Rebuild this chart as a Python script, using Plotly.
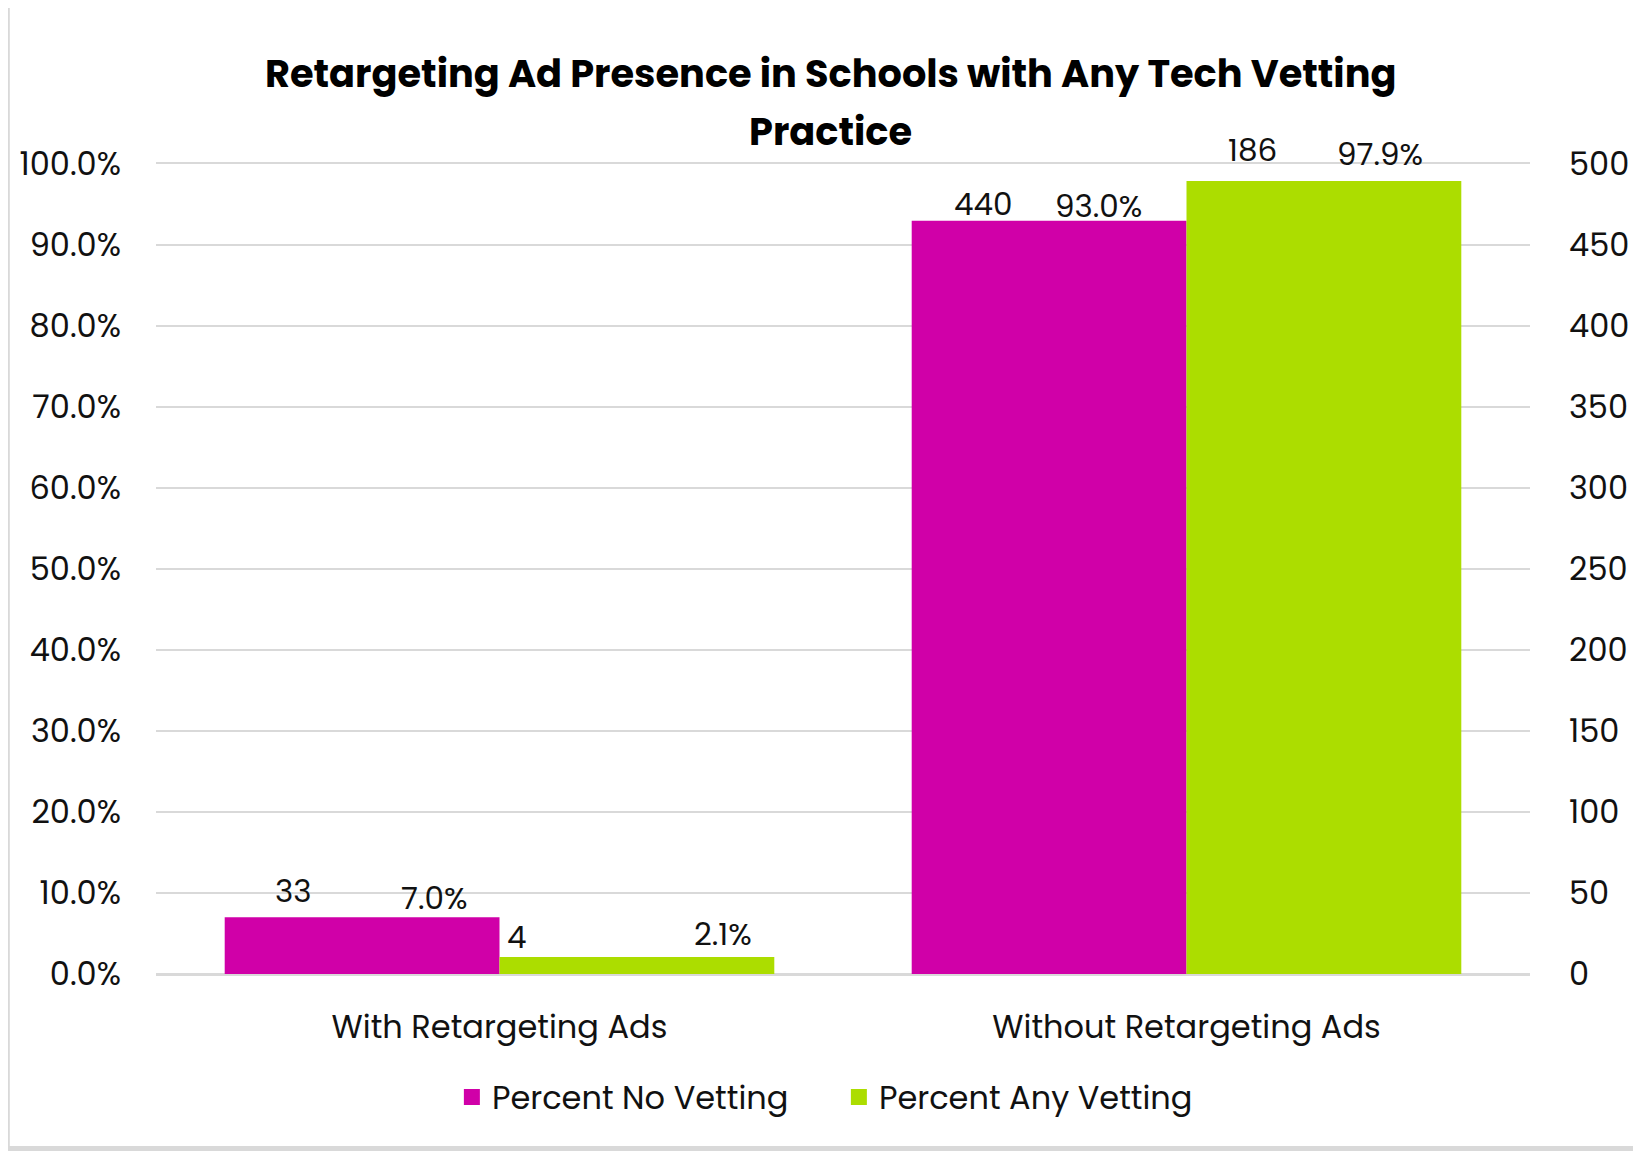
import plotly.graph_objects as go

# data
categories = ["With Retargeting Ads", "Without Retargeting Ads"]
pct_no_vetting = [7.0, 93.0]
pct_any_vetting = [2.1, 97.9]
count_no_vetting = [33, 440]
count_any_vetting = [4, 186]
pct_ticks = list(range(0, 101, 10))
count_ticks = list(range(0, 501, 50))
title_lines = ["Retargeting Ad Presence in Schools with Any Tech Vetting", "Practice"]

MAGENTA = "#d000a8"
LIME = "#acdd00"
FONT = "Poppins, Inter, 'Noto Sans', sans-serif"
GRID = "#d9d9d9"

fig = go.Figure()
fig.add_trace(go.Bar(x=categories, y=pct_no_vetting, name="Percent No Vetting",
                     marker=dict(color=MAGENTA, line=dict(width=0)), showlegend=False))
fig.add_trace(go.Bar(x=categories, y=pct_any_vetting, name="Percent Any Vetting",
                     marker=dict(color=LIME, line=dict(width=0)), showlegend=False))
# invisible trace so the secondary (count) axis gets drawn
fig.add_trace(go.Scatter(x=categories, y=count_no_vetting, yaxis="y2", mode="markers",
                         marker=dict(opacity=0), showlegend=False, hoverinfo="skip"))
# legend entries with bigger square keys
for name, col in [("Percent No Vetting", MAGENTA), ("Percent Any Vetting", LIME)]:
    fig.add_trace(go.Scatter(x=[None], y=[None], mode="markers", name=name,
                             marker=dict(symbol="square", size=22, color=col)))

# label offsets in px relative to category centre: (count dx, count dy, pct dx, pct dy)
offs_no = [(-206, 26, -66, 19), (-204, 17, -88, 15)]
offs_any = [(17, 20, 223, 23), (66, 31, 193, 27)]

annots = []
for series, counts, offs in [(pct_no_vetting, count_no_vetting, offs_no),
                             (pct_any_vetting, count_any_vetting, offs_any)]:
    for i, cat in enumerate(categories):
        cdx, cdy, pdx, pdy = offs[i]
        annots.append(dict(x=cat, y=series[i], xref="x", yref="y", text=str(counts[i]),
                           showarrow=False, xshift=cdx, yshift=cdy, yanchor="middle",
                           font=dict(size=31, color="#111111", family=FONT)))
        annots.append(dict(x=cat, y=series[i], xref="x", yref="y", text=f"{series[i]:.1f}%",
                           showarrow=False, xshift=pdx, yshift=pdy, yanchor="middle",
                           font=dict(size=31, color="#111111", family=FONT)))

for line, ty in zip(title_lines, [1.112, 1.0407]):
    annots.append(dict(x=0.491, y=ty, xref="paper", yref="paper", text=f"<b>{line}</b>",
                       showarrow=False, xanchor="center", yanchor="middle",
                       font=dict(size=38.3, color="#000000", family=FONT)))

fig.update_layout(
    width=1641, height=1151,
    margin=dict(l=148, r=119, t=156, b=185),
    paper_bgcolor="white", plot_bgcolor="white",
    font=dict(family=FONT, size=32, color="#111111"),
    barmode="group", bargap=0.2, bargroupgap=0,
    xaxis=dict(showgrid=False, showline=True, mirror=True, linecolor=GRID, linewidth=2,
               ticks="", ticklabelstandoff=24, tickfont=dict(size=32)),
    yaxis=dict(range=[0, 100], tickvals=pct_ticks,
               ticktext=[f"{v:.1f}%" for v in pct_ticks],
               gridcolor=GRID, gridwidth=2, zeroline=True,
               zerolinecolor=GRID, zerolinewidth=2, ticklabelstandoff=34,
               tickfont=dict(size=32)),
    yaxis2=dict(range=[0, 500], tickvals=count_ticks, overlaying="y",
                side="right", showgrid=False, zeroline=False, ticklabelstandoff=38,
                tickfont=dict(size=32)),
    legend=dict(orientation="h", x=0.497, xanchor="center", y=-0.152, yanchor="middle",
                font=dict(size=32), traceorder="normal", itemwidth=30,
                entrywidth=342, entrywidthmode="pixels"),
    annotations=annots,
    shapes=[
        dict(type="rect", xref="paper", yref="paper", x0=-0.12, x1=1.09,
             y0=-0.2123, y1=-0.23, fillcolor="#d9d9d9", line=dict(width=0)),
        dict(type="rect", xref="paper", yref="paper", x0=-0.1077, x1=-0.1064,
             y0=-0.23, y1=1.21, fillcolor="#d9d9d9", line=dict(width=0)),
    ],
)

fig.write_html("out.html")
